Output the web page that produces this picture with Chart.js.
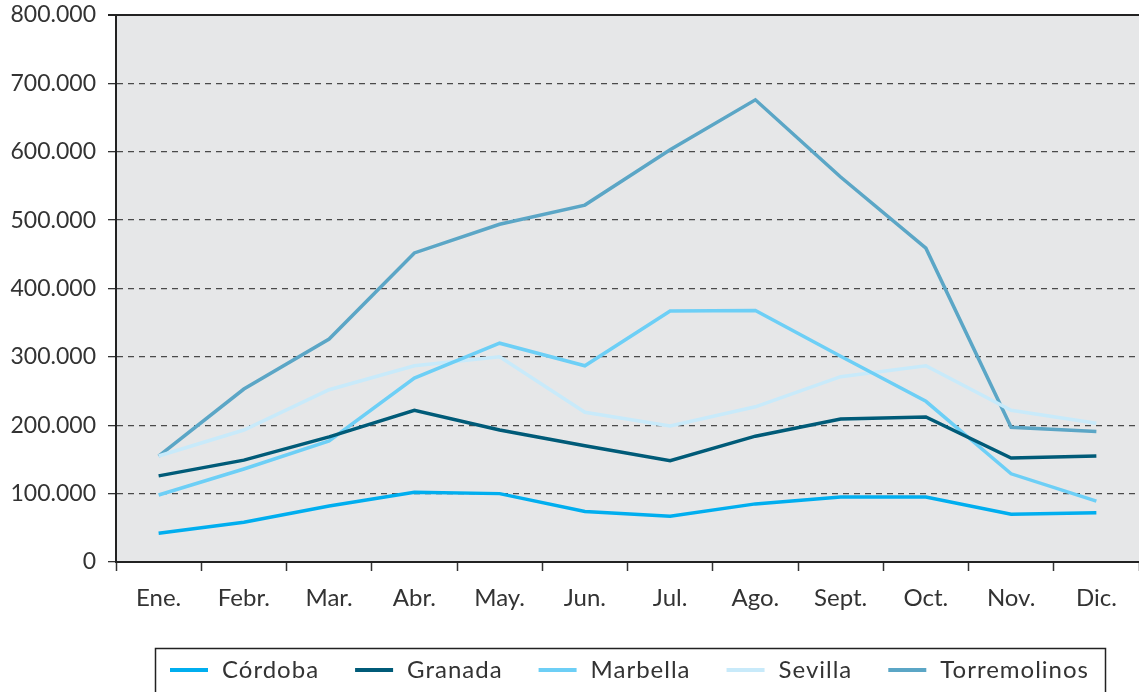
<!DOCTYPE html>
<html>
<head>
<meta charset="utf-8">
<script src="https://cdn.jsdelivr.net/npm/chart.js@4.4.1/dist/chart.umd.min.js"></script>
<style>
    html, body { margin: 0; padding: 0; background: #fff; }
    #wrap { width: 1139px; height: 692px; position: relative; }
</style>
</head>
<body>
<div id="wrap"><canvas id="line-chart"></canvas></div>
<script>
    "use strict";

    // Data
    var months = ["Ene.", "Febr.", "Mar.", "Abr.", "May.", "Jun.", "Jul.", "Ago.", "Sept.", "Oct.", "Nov.", "Dic."];
    var cordoba = [42000, 58000, 82000, 102000, 100000, 74000, 67000, 85000, 95000, 95000, 70000, 72000];
    var granada = [126000, 149000, 183000, 222000, 193000, 170000, 148000, 184000, 209000, 212000, 152000, 155000];
    var marbella = [98000, 136000, 177000, 269000, 320000, 287000, 367000, 368000, 301000, 235000, 129000, 89000];
    var sevilla = [155000, 193000, 252000, 287000, 300000, 219000, 199000, 227000, 271000, 287000, 222000, 203000];
    var torremolinos = [155000, 253000, 326000, 452000, 494000, 522000, 603000, 676000, 563000, 459000, 197000, 191000];
    var yTicks = [0, 100000, 200000, 300000, 400000, 500000, 600000, 700000, 800000];

    var FONT = "Lato, 'DejaVu Sans', sans-serif";
    var TEXT = "#333333";

    function fmt(v) {
        if (v === 0) return "0";
        return String(v).replace(/\B(?=(\d{3})+(?!\d))/g, ".");
    }

    function series(label, data, color) {
        return {
            label: label,
            data: data,
            borderColor: color,
            backgroundColor: color,
            borderWidth: 3.5,
            pointRadius: 0,
            tension: 0,
            fill: false
        };
    }

    // Grey plot background + solid top border
    var plotFrame = {
        id: "plotFrame",
        beforeDraw: function (chart) {
            var a = chart.chartArea, c = chart.ctx;
            c.save();
            c.fillStyle = "#e6e7e8";
            c.fillRect(a.left, a.top, a.right - a.left, a.bottom - a.top);
            c.restore();
        },
        afterDraw: function (chart) {
            var a = chart.chartArea, c = chart.ctx;
            c.save();
            c.strokeStyle = "#222";
            c.lineWidth = 2;
            c.beginPath();
            c.moveTo(a.left - 8, a.top);
            c.lineTo(a.right, a.top);
            c.stroke();
            c.restore();
        }
    };

    // Boxed legend along the bottom
    var boxLegend = {
        id: "boxLegend",
        afterDraw: function (chart) {
            var c = chart.ctx;
            var boxLeft = 155, boxTop = 648, boxRight = 1105;
            c.save();
            c.strokeStyle = "#222";
            c.lineWidth = 1.5;
            c.strokeRect(boxLeft + 0.5, boxTop + 0.5, boxRight - boxLeft, 80);
            c.font = "24px " + FONT;
            c.letterSpacing = "1px";
            c.textBaseline = "middle";
            var x = 170, y = 670;
            chart.data.datasets.forEach(function (ds) {
                c.fillStyle = ds.borderColor;
                c.fillRect(x, y - 2, 38, 4);
                c.fillStyle = TEXT;
                c.fillText(ds.label, x + 52, y);
                x += 52 + c.measureText(ds.label).width + 36;
            });
            c.restore();
        }
    };

    var ctx = document.getElementById("line-chart").getContext("2d");
    var myChart = new Chart(ctx, {
        type: "line",
        data: {
            labels: months,
            datasets: [
                series("Córdoba", cordoba, "#00aeef"),
                series("Granada", granada, "#005b78"),
                series("Marbella", marbella, "#6dcff6"),
                series("Sevilla", sevilla, "#c8eafa"),
                series("Torremolinos", torremolinos, "#5ba6c6")
            ]
        },
        options: {
            responsive: true,
            maintainAspectRatio: false,
            animation: false,
            layout: { padding: { top: 15, right: 0, bottom: 0, left: 0 } },
            plugins: {
                legend: { display: false },
                tooltip: { enabled: false }
            },
            scales: {
                x: {
                    offset: true,
                    afterFit: function (scale) {
                        scale.height = 130;
                        scale.paddingRight = 0;
                    },
                    grid: {
                        offset: true,
                        drawOnChartArea: false,
                        drawTicks: true,
                        tickLength: 9,
                        tickColor: "#333",
                        tickWidth: 1.5
                    },
                    border: { color: "#222", width: 2 },
                    ticks: {
                        color: TEXT,
                        font: { family: FONT, size: 24 },
                        padding: 13,
                        maxRotation: 0,
                        autoSkip: false
                    }
                },
                y: {
                    min: 0,
                    max: 800000,
                    afterFit: function (scale) {
                        scale.width = 116;
                        scale.paddingTop = 0;
                        scale.paddingBottom = 0;
                    },
                    afterBuildTicks: function (scale) {
                        scale.ticks = yTicks.map(function (v) { return { value: v }; });
                    },
                    grid: {
                        color: "#4a4a4a",
                        lineWidth: 1.3,
                        drawTicks: true,
                        tickLength: 8,
                        tickColor: "#333"
                    },
                    border: { color: "#222", width: 2, dash: [6, 5] },
                    ticks: {
                        color: TEXT,
                        font: { family: FONT, size: 23 },
                        padding: 12,
                        callback: function (v) { return fmt(v); }
                    }
                }
            }
        },
        plugins: [plotFrame, boxLegend]
    });
</script>
</body>
</html>
